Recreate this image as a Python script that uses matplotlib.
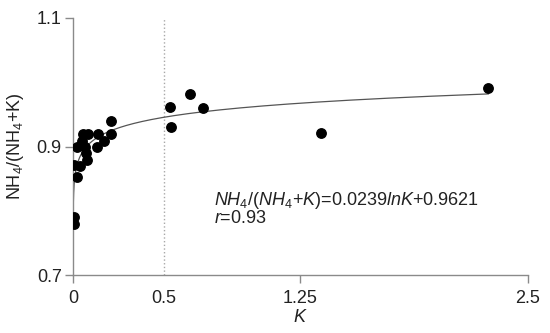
import matplotlib.pyplot as plt
import matplotlib as mpl
import numpy as np

mpl.rcParams.update({
    'font.family': ['Liberation Sans', 'DejaVu Sans'],
    'font.size': 13,
    'mathtext.fontset': 'custom',
    'mathtext.rm': 'Liberation Sans',
    'mathtext.it': 'Liberation Sans:italic',
})

# data
k_vals = [0.005, 0.005, 0.022, 0.005, 0.038, 0.077, 0.071, 0.022, 0.049, 0.066,
          0.055, 0.082, 0.137, 0.134, 0.170, 0.209, 0.209, 0.533, 0.541, 0.643,
          0.717, 1.360, 2.282]
ratio_vals = [0.791, 0.780, 0.852, 0.871, 0.870, 0.879, 0.890, 0.900, 0.909, 0.900,
              0.920, 0.920, 0.920, 0.900, 0.909, 0.920, 0.940, 0.961, 0.931, 0.982,
              0.960, 0.921, 0.991]

# fitted curve y = a*ln(K) + b
a, b = 0.0239, 0.9621
k_fit_min, k_fit_max = 0.0005, 2.282

grey = '#8a8a8a'
txt = '#222222'
fs = 13

fig = plt.figure(figsize=(5.5, 3.33), dpi=100)
ax = fig.add_axes([0.1327, 0.174, 0.8273, 0.772])

ax.axvline(0.5, color='#a8a8a8', linestyle=':', linewidth=1.0, zorder=1)

kk = np.geomspace(k_fit_min, k_fit_max, 400)
ax.plot(kk, a * np.log(kk) + b, color='#555555', linewidth=0.9, zorder=2)

ax.plot(k_vals, ratio_vals, 'o', color='black', markersize=6.8, zorder=3)

ax.set_xlim(0, 2.5)
ax.set_ylim(0.7, 1.1)
ax.set_xticks([0, 0.5, 1.25, 2.5])
ax.set_xticklabels(['0', '0.5', '1.25', '2.5'])
ax.set_yticks([0.7, 0.9, 1.1])
ax.set_yticklabels(['0.7', '0.9', '1.1'])
ax.xaxis.get_major_ticks()[1].tick1line.set_visible(False)

for s in ['top', 'right']:
    ax.spines[s].set_visible(False)
for s in ['left', 'bottom']:
    ax.spines[s].set_color(grey)
    ax.spines[s].set_linewidth(1.0)
ax.tick_params(axis='both', direction='out', length=6, width=1.0,
               color=grey, labelcolor=txt, labelsize=fs)
ax.tick_params(axis='x', pad=5)
ax.tick_params(axis='y', pad=2)

ax.set_xlabel('$\\mathit{K}$', color=txt, fontsize=fs, labelpad=1)
ax.set_ylabel('NH$_4$/(NH$_4$+K)', color=txt, fontsize=fs, labelpad=8)

ax.text(0.775, 0.809,
        r'$\mathit{NH_4/(NH_4}$+$\mathit{K)}$=0.0239$\mathit{lnK}$+0.9621',
        color=txt, fontsize=fs, va='baseline', ha='left')
ax.text(0.775, 0.781, r'$\mathit{r}$=0.93', color=txt, fontsize=fs,
        va='baseline', ha='left')

plt.savefig('out.png', dpi=100)
